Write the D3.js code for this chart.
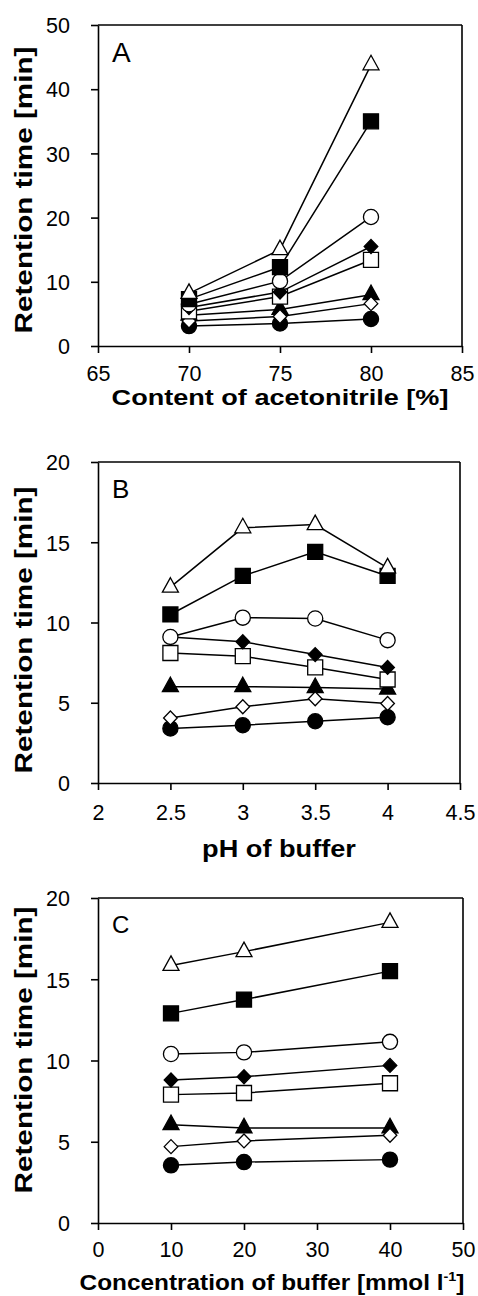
<!DOCTYPE html>
<html><head><meta charset="utf-8">
<script src="https://cdn.jsdelivr.net/npm/d3@7"></script>
<style>
html,body{margin:0;padding:0;background:#fff;}
svg{display:block;font-family:Arial,"Liberation Sans",sans-serif;}
</style></head>
<body>
<svg id="chart" width="478" height="1296"></svg>
<script>
// ---- Data ----
const seriesNames = ["filledCircle","filledTriangle","openDiamond","openSquare","filledDiamond","openCircle","filledSquare","openTriangle"];

const xA = [70, 75, 80];
const A_filledCircle   = [3.1, 3.5, 4.2];
const A_filledTriangle = [4.8, 5.7, 8.0];
const A_openDiamond    = [3.9, 4.6, 6.6];
const A_openSquare     = [5.4, 7.7, 13.4];
const A_filledDiamond  = [6.0, 8.4, 15.5];
const A_openCircle     = [6.5, 10.1, 20.1];
const A_filledSquare   = [7.3, 12.3, 35.0];
const A_openTriangle   = [8.2, 15.0, 43.8];

const xB = [2.5, 3, 3.5, 4];
const B_filledCircle   = [3.4, 3.6, 3.85, 4.1];
const B_filledTriangle = [6.0, 6.0, 5.95, 5.85];
const B_openDiamond    = [4.05, 4.75, 5.25, 4.95];
const B_openSquare     = [8.1, 7.9, 7.2, 6.45];
const B_filledDiamond  = [9.1, 8.8, 8.0, 7.2];
const B_openCircle     = [9.1, 10.3, 10.25, 8.9];
const B_filledSquare   = [10.5, 12.9, 14.4, 12.9];
const B_openTriangle   = [12.2, 15.9, 16.1, 13.4];

const xC = [10, 20, 40];
const C_filledCircle   = [3.55, 3.75, 3.9];
const C_filledTriangle = [6.05, 5.85, 5.85];
const C_openDiamond    = [4.7, 5.05, 5.4];
const C_openSquare     = [7.9, 8.0, 8.6];
const C_filledDiamond  = [8.8, 9.0, 9.7];
const C_openCircle     = [10.4, 10.5, 11.15];
const C_filledSquare   = [12.9, 13.75, 15.5];
const C_openTriangle   = [15.85, 16.7, 18.5];

const ticksXA = [65, 70, 75, 80, 85];
const ticksYA = [0, 10, 20, 30, 40, 50];
const ticksXB = [2, 2.5, 3, 3.5, 4, 4.5];
const ticksYB = [0, 5, 10, 15, 20];
const ticksXC = [0, 10, 20, 30, 40, 50];
const ticksYC = [0, 5, 10, 15, 20];

const yTitle = "Retention time [min]";
const xTitleA = "Content of acetonitrile [%]";
const xTitleB = "pH of buffer";
const letters = ["A", "B", "C"];

// ---- Layout ----
const svg = d3.select("#chart");

const panels = [
  {x: xA, ys: [A_filledCircle,A_filledTriangle,A_openDiamond,A_openSquare,A_filledDiamond,A_openCircle,A_filledSquare,A_openTriangle],
   xd: [65, 85], yd: [0, 50], xt: ticksXA, yt: ticksYA,
   L: 98, R: 462, T: 25, B: 346, letter: letters[0], letterSize: 28, letterY: 62,
   xTitleY: 405, xTitleSize: 22, xTitleW: 337, xTitleCx: 280, yTitleCy: 190, yTitleW: 287, tickY: 381},
  {x: xB, ys: [B_filledCircle,B_filledTriangle,B_openDiamond,B_openSquare,B_filledDiamond,B_openCircle,B_filledSquare,B_openTriangle],
   xd: [2, 4.5], yd: [0, 20], xt: ticksXB, yt: ticksYB,
   L: 98, R: 460, T: 462, B: 783, letter: letters[1], letterSize: 26, letterY: 498,
   xTitleY: 857, xTitleSize: 23, xTitleW: 154, xTitleCx: 279, yTitleCy: 630, yTitleW: 287, tickY: 820},
  {x: xC, ys: [C_filledCircle,C_filledTriangle,C_openDiamond,C_openSquare,C_filledDiamond,C_openCircle,C_filledSquare,C_openTriangle],
   xd: [0, 50], yd: [0, 20], xt: ticksXC, yt: ticksYC,
   L: 98, R: 463, T: 898, B: 1223, letter: letters[2], letterSize: 24, letterY: 933,
   xTitleY: 1290, xTitleSize: 22, xTitleW: 385, xTitleCx: 272, yTitleCy: 1050, yTitleW: 287, tickY: 1257}
];

function markerPath(name) {
  switch (name) {
    case "filledCircle": case "openCircle": return d3.symbol(d3.symbolCircle, 180)();
    case "filledSquare": case "openSquare": return "M-7.5,-7.5H7.5V7.5H-7.5Z";
    case "filledTriangle": case "openTriangle": return "M0,-9.5L8,5L-8,5Z";
    case "filledDiamond": case "openDiamond": return "M0,-7L6.8,0L0,7L-6.8,0Z";
  }
}

const fmt = d3.format("~g");

function scaleText(sel, targetW) {
  sel.each(function() {
    const el = d3.select(this);
    const w = this.getBBox().width;
    const k = targetW / w;
    const cx = +el.attr("data-cx"), cy = +el.attr("data-cy");
    const rot = el.attr("data-rot") === "1";
    if (rot) {
      el.attr("transform", `translate(${cx},${cy}) rotate(-90) scale(${k},1)`);
    } else {
      el.attr("transform", `translate(${cx},${cy}) scale(${k},1)`);
    }
  });
}

panels.forEach((p, pi) => {
  const g = svg.append("g");
  const x = d3.scaleLinear().domain(p.xd).range([p.L, p.R]);
  const y = d3.scaleLinear().domain(p.yd).range([p.B, p.T]);

  // axes
  const xAxis = d3.axisBottom(x).tickValues(p.xt).tickFormat(fmt).tickSizeOuter(0).tickSizeInner(7).tickPadding(0);
  const yAxis = d3.axisLeft(y).tickValues(p.yt).tickFormat(fmt).tickSizeOuter(0).tickSizeInner(7).tickPadding(0);

  const gx = g.append("g").attr("transform", `translate(0,${p.B})`).call(xAxis);
  const gy = g.append("g").attr("transform", `translate(${p.L},0)`).call(yAxis);
  [gx, gy].forEach(a => {
    a.selectAll("path.domain").attr("stroke", "#000").attr("stroke-width", 1.6);
    a.selectAll(".tick line").attr("stroke", "#000").attr("stroke-width", 1.6);
    a.selectAll(".tick text").attr("fill", "#000").attr("font-size", 21.5)
      .attr("font-family", "Arial, 'Liberation Sans', sans-serif");
  });
  gx.selectAll(".tick text").attr("y", p.tickY - p.B).attr("dy", 0);
  gy.selectAll(".tick text").attr("x", 70 - p.L).attr("dy", "0.36em");

  // top and right frame
  g.append("line").attr("x1", p.L).attr("x2", p.R).attr("y1", p.T).attr("y2", p.T)
    .attr("stroke", "#000").attr("stroke-width", 1.6);
  g.append("line").attr("x1", p.R).attr("x2", p.R).attr("y1", p.T).attr("y2", p.B)
    .attr("stroke", "#000").attr("stroke-width", 1.6);

  // panel letter
  g.append("text").attr("x", 112).attr("y", p.letterY).attr("font-size", p.letterSize)
    .attr("fill", "#000").text(p.letter);

  // lines
  const line = d3.line().x(d => x(d[0])).y(d => y(d[1]));
  p.ys.forEach(vals => {
    g.append("path").datum(p.x.map((xv, i) => [xv, vals[i]]))
      .attr("d", line).attr("fill", "none").attr("stroke", "#000").attr("stroke-width", 1.5);
  });
  // markers
  p.ys.forEach((vals, si) => {
    const name = seriesNames[si];
    const open = name.startsWith("open");
    g.append("g").selectAll("path").data(p.x.map((xv, i) => [xv, vals[i]])).join("path")
      .attr("d", markerPath(name))
      .attr("transform", d => `translate(${x(d[0])},${y(d[1])})`)
      .attr("fill", open ? "#fff" : "#000")
      .attr("stroke", "#000").attr("stroke-width", 1.3);
  });

  // x title
  let xt;
  if (pi < 2) {
    xt = g.append("text").attr("font-size", p.xTitleSize).attr("font-weight", "bold").attr("text-anchor", "middle")
      .attr("data-cx", p.xTitleCx).attr("data-cy", p.xTitleY)
      .text(pi === 0 ? xTitleA : xTitleB);
  } else {
    xt = g.append("text").attr("font-size", p.xTitleSize).attr("font-weight", "bold").attr("text-anchor", "middle")
      .attr("data-cx", p.xTitleCx).attr("data-cy", p.xTitleY);
    xt.append("tspan").text("Concentration of buffer [mmol l");
    xt.append("tspan").attr("font-size", 13).attr("dy", -9).text("-1");
    xt.append("tspan").attr("dy", 9).text("]");
  }
  scaleText(xt, p.xTitleW);

  // y title
  const yt = g.append("text").attr("font-size", 23).attr("font-weight", "bold").attr("text-anchor", "middle")
    .attr("data-cx", 32).attr("data-cy", p.yTitleCy).attr("data-rot", "1").text(yTitle);
  scaleText(yt, p.yTitleW);
});
</script>
</body></html>
